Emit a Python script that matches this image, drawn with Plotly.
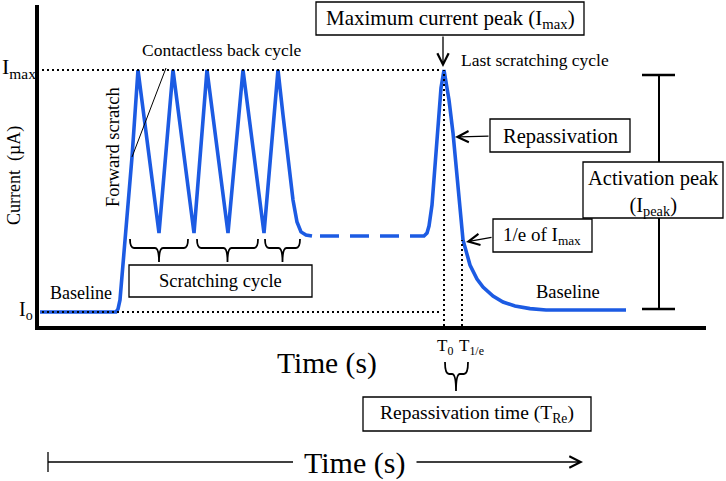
import plotly.graph_objects as go

# ---------------- data (schematic, arbitrary units) ----------------
# time in arbitrary units, current normalised so that Io = 0 and Imax = 1
time_scratch = [3, 79, 81, 83, 95, 101, 122, 136, 157, 170, 191, 206, 227, 241,
                246, 251, 256, 260, 264, 269, 275]
current_scratch = [0, 0, 0.012, 0.050, 0.640, 1.0, 0.326, 1.0, 0.326, 1.0, 0.326, 1.0,
                   0.326, 1.0, 0.814, 0.628, 0.463, 0.372, 0.331, 0.318, 0.314]

time_plateau = [283, 373]
current_plateau = [0.314, 0.314]

time_peak = [373, 387, 390, 392, 395, 398, 401, 404, 407, 410, 412, 416, 421, 426,
             433, 440, 446, 456, 466, 478, 493, 509, 589]
current_peak = [0.314, 0.314, 0.326, 0.355, 0.442, 0.599, 0.773, 0.926, 1.0, 0.926,
                0.876, 0.740, 0.517, 0.298, 0.194, 0.136, 0.103, 0.066, 0.041,
                0.025, 0.014, 0.008, 0.008]

I0 = 0.0
IMAX = 1.0
T0 = 407
T1E = 425
I_1E = 0.298

# ---------------- layout helpers (pixel -> data) ----------------
OX, OY, SC = 37, 312, 242
W, H = 726, 481


def X(px):
    return px - OX


def Y(py):
    return (OY - py) / SC


FONT = "Liberation Serif"
BLUE = "#1C5BE3"
BLACK = "black"

fig = go.Figure()
fig.add_trace(go.Scatter(x=time_scratch, y=current_scratch, mode="lines",
                         line=dict(color=BLUE, width=3.6), hoverinfo="skip"))
fig.add_trace(go.Scatter(x=time_plateau, y=current_plateau, mode="lines",
                         line=dict(color=BLUE, width=3.6, dash="19px,11px"),
                         hoverinfo="skip"))
fig.add_trace(go.Scatter(x=time_peak, y=current_peak, mode="lines",
                         line=dict(color=BLUE, width=3.6), hoverinfo="skip"))

shapes = []


def line(x0, y0, x1, y1, width=1.5, dash=None, color=BLACK):
    d = dict(type="line", xref="x", yref="y", x0=x0, y0=y0, x1=x1, y1=y1,
             line=dict(color=color, width=width))
    if dash:
        d["line"]["dash"] = dash
    shapes.append(d)


def rect(px0, py0, px1, py1):
    shapes.append(dict(type="rect", xref="x", yref="y", x0=X(px0), x1=X(px1),
                       y0=Y(py1), y1=Y(py0), fillcolor="white",
                       line=dict(color=BLACK, width=1.3)))


def brace(x0, x1, ytop, ybar, ybot, xc=None, r=4):
    if xc is None:
        xc = (x0 + x1) / 2

    def p(a, b):
        return f"{X(a):.3f},{Y(b):.4f}"
    path = (f"M{p(x0, ytop)} Q{p(x0, ybar)} {p(x0 + r, ybar)} L{p(xc - r, ybar)} "
            f"Q{p(xc, ybar)} {p(xc, ybot)} Q{p(xc, ybar)} {p(xc + r, ybar)} "
            f"L{p(x1 - r, ybar)} Q{p(x1, ybar)} {p(x1, ytop)}")
    shapes.append(dict(type="path", xref="x", yref="y", path=path,
                       line=dict(color=BLACK, width=1.8)))


# axes
line(X(37), Y(330), X(37), Y(5), width=4)
line(X(35), Y(328), X(706), Y(328), width=4)
# reference dotted lines
line(X(42), IMAX, X(440), IMAX, width=2, dash="2px,3px")
line(X(42), I0, X(440), I0, width=2, dash="2px,3px")
line(T0, Y(326), T0, IMAX, width=2, dash="2px,3px")
line(T1E, Y(326), T1E, I_1E, width=2, dash="2px,3px")
# activation I-beam
line(X(659), Y(75), X(659), Y(309), width=2)
line(X(642), Y(75), X(675), Y(75), width=2.5)
line(X(642), Y(309), X(675), Y(309), width=2.5)
# forward scratch pointer
line(X(166), Y(68), X(132), Y(157), width=1)
# braces
brace(130, 188, 239, 248, 262)
brace(197, 258, 239, 248, 262)
brace(265, 300, 239, 248, 262)
brace(445, 468, 362, 374, 391, xc=456)
# bottom time arrow
line(X(48), Y(452), X(48), Y(472), width=1.3)
line(X(48), Y(462), X(293), Y(462), width=1.3)
# boxes
rect(316, 2, 584, 35)
rect(129, 265, 312, 297)
rect(490, 119, 630, 152)
rect(583, 162, 723, 218)
rect(493, 219, 592, 252)
rect(363, 397, 591, 431)

ann = []


def text(px, py, s, size, angle=0, xanchor="center"):
    ann.append(dict(x=X(px), y=Y(py), xref="x", yref="y", text=s, showarrow=False,
                    textangle=angle, xanchor=xanchor, yanchor="middle",
                    font=dict(family=FONT, size=size, color=BLACK)))


def arrow(px0, py0, px1, py1):
    ann.append(dict(x=X(px1), y=Y(py1), ax=X(px0), ay=Y(py0), xref="x", yref="y",
                    axref="x", ayref="y", text="", showarrow=True, arrowhead=5,
                    arrowsize=1.7, arrowwidth=1.3, arrowcolor=BLACK, standoff=0,
                    startstandoff=0))


text(19, 68, "I<sub>max</sub>", 22)
text(26, 310, "I<sub>o</sub>", 20)
text(14, 176, "Current\u00a0 (µA)", 18)
ann[-1]["textangle"] = -90
text(113, 147, "Forward scratch", 18.5)
ann[-1]["textangle"] = -90
text(222, 50, "Contactless back cycle", 17.5)
text(535, 60, "Last scratching cycle", 17.5)
text(81, 293, "Baseline", 18)
text(568, 292, "Baseline", 18.5)
text(220, 281, "Scratching cycle", 18.5)
text(450, 19, "Maximum current peak (I<sub>max</sub>)", 21)
text(560, 136, "Repassivation", 20.5)
text(653, 193, "Activation peak<br>(I<sub>peak</sub>)", 20.5)
text(542, 236, "1/e of I<sub>max</sub>", 19)
text(477, 414, "Repassivation time (T<sub>Re</sub>)", 19.5)
text(327, 363, "Time (s)", 29.5)
text(445, 347, "T<sub>0</sub>", 17)
text(471, 347, "T<sub>1/e</sub>", 17)
text(354, 463, "Time (s)", 30)

arrow(443, 35, 443, 67)
arrow(490, 136, 455, 137)
arrow(493, 237, 466, 242)
arrow(415, 462, 583, 462)

fig.update_layout(
    width=W, height=H, margin=dict(l=0, r=0, t=0, b=0),
    paper_bgcolor="white", plot_bgcolor="white", showlegend=False,
    xaxis=dict(visible=False, range=[X(0), X(W)], fixedrange=True),
    yaxis=dict(visible=False, range=[Y(H), Y(0)], fixedrange=True),
    shapes=shapes, annotations=ann,
)

fig.write_html("out.html", post_script="document.body.style.margin='0';",
               config={"displayModeBar": False})
